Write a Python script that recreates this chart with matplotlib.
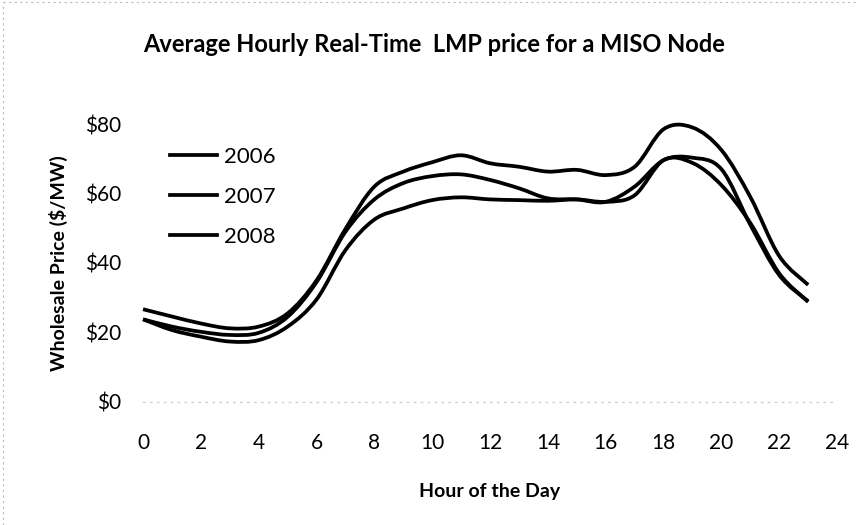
import numpy as np
import matplotlib.pyplot as plt
from matplotlib.path import Path
from matplotlib.patches import PathPatch
from matplotlib.lines import Line2D

plt.rcParams['font.family'] = ['Lato', 'DejaVu Sans']

# 数据：每小时平均实时 LMP 价格
hours = list(range(24))
years = ['2006', '2007', '2008']
price_2006 = [23.8, 20.7, 18.8, 17.4, 17.8, 21.7, 29.5, 43.7, 52.5, 55.7, 58.1, 58.9,
              58.3, 58.1, 57.9, 58.3, 57.6, 59.5, 69.6, 68.8, 62.4, 51.5, 37.0, 28.8]
price_2007 = [23.8, 21.7, 20.2, 19.3, 19.9, 24.5, 34.5, 49.0, 58.3, 63.0, 65.0, 65.5,
              63.9, 61.5, 58.6, 58.3, 57.6, 62.0, 69.6, 70.3, 67.0, 51.0, 36.5, 29.0]
price_2008 = [26.7, 24.6, 22.6, 21.2, 21.7, 25.5, 35.0, 49.8, 62.0, 66.3, 69.0, 71.0,
              68.7, 67.7, 66.3, 66.8, 65.3, 67.7, 78.5, 79.0, 72.5, 59.0, 42.0, 33.7]
series = [price_2006, price_2007, price_2008]

x_ticks = list(range(0, 25, 2))
y_ticks = [0, 20, 40, 60, 80]
y_labels = ['$0', '$20', '$40', '$60', '$80']


def smooth_path(xs, ys):
    # Excel 风格平滑线：三次贝塞尔，控制点取相邻点差的 1/6
    pts = np.column_stack([xs, ys]).astype(float)
    verts = [pts[0]]
    codes = [Path.MOVETO]
    n = len(pts)
    for i in range(n - 1):
        p0 = pts[max(i - 1, 0)]
        p1 = pts[i]
        p2 = pts[i + 1]
        p3 = pts[min(i + 2, n - 1)]
        c1 = p1 + (p2 - p0) / 6.0
        c2 = p2 - (p3 - p1) / 6.0
        verts += [c1, c2, p2]
        codes += [Path.CURVE4] * 3
    return Path(verts, codes)


fig = plt.figure(figsize=(8.59, 5.25), dpi=100)
ax = fig.add_axes([0.1665, 0.2343, 0.808, 0.5295])

for name, vals in zip(years, series):
    patch = PathPatch(smooth_path(hours, vals), facecolor='none', edgecolor='black',
                      lw=2.7, capstyle='butt', clip_on=False)
    ax.add_patch(patch)

ax.set_xlim(0, 24)
ax.set_ylim(0, 80)
ax.set_xticks(x_ticks)
ax.set_yticks(y_ticks)
ax.set_yticklabels(y_labels)
ax.tick_params(length=0, labelsize=15)
ax.tick_params(axis='x', pad=22)
ax.tick_params(axis='y', pad=16)

for side in ['top', 'right', 'left']:
    ax.spines[side].set_visible(False)
ax.spines['bottom'].set_color('#d0d0d0')
ax.spines['bottom'].set_linestyle((0, (1, 4)))
ax.spines['bottom'].set_linewidth(1)

ax.set_title('Average Hourly Real-Time  LMP price for a MISO Node',
             fontsize=17, fontweight='bold', pad=52, x=0.42)
ax.set_xlabel('Hour of the Day', fontsize=14, fontweight='bold', labelpad=22)
ax.set_ylabel('Wholesale Price ($/MW)', fontsize=14, fontweight='bold', labelpad=12)

handles = [Line2D([], [], color='black', lw=2.7) for _ in years]
ax.legend(handles, years, loc='upper left', bbox_to_anchor=(0.01, 0.99),
          frameon=False, fontsize=16, handlelength=2.1, handletextpad=0.35,
          labelspacing=0.9)

# 扫描图的淡色边框
fig.add_artist(Line2D([0.003, 0.997], [0.996, 0.996], color='#bbbbbb', lw=0.8,
                      ls=(0, (2, 3)), transform=fig.transFigure))
fig.add_artist(Line2D([0.003, 0.003], [0.0, 0.996], color='#bbbbbb', lw=0.8,
                      ls=(0, (2, 3)), transform=fig.transFigure))

plt.savefig('out.png', dpi=100)
